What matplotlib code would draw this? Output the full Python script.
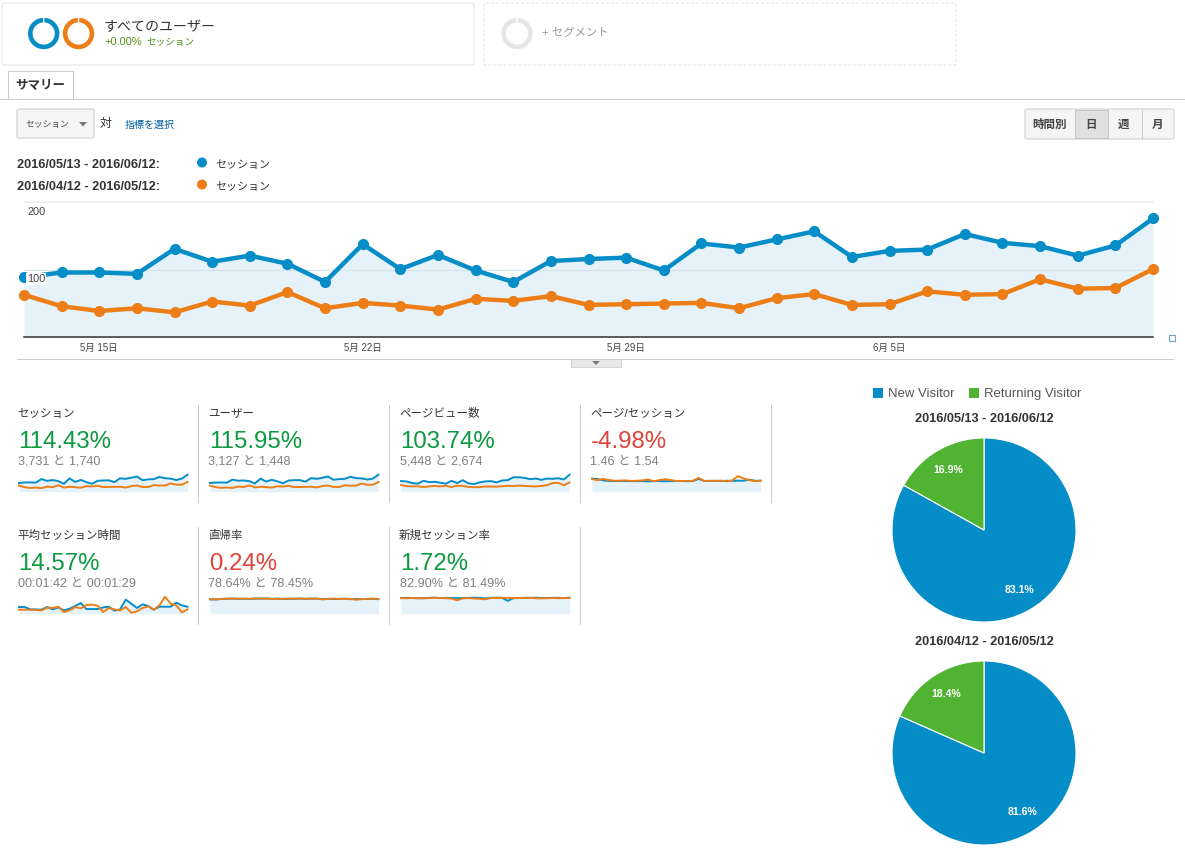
import matplotlib
matplotlib.use("Agg")
import matplotlib.pyplot as plt
from matplotlib.patches import Rectangle, FancyBboxPatch, Wedge, Circle, Polygon

plt.rcParams['font.family'] = ['Liberation Sans', 'Noto Sans CJK JP', 'DejaVu Sans']

W, H = 1185, 852
BLUE = '#058DC7'
ORANGE = '#ED7E17'
GREEN = '#50B432'
FILL = '#E5F2F9'

# daily sessions
sessions_now = [89, 96, 96, 94, 131, 112, 121, 109, 82, 138, 101, 122, 99, 82, 113, 116,
                118, 99, 139, 133, 145, 157, 119, 128, 130, 153, 140, 135, 121, 136, 176]
sessions_prev = [63, 46, 39, 43, 37, 53, 47, 67, 43, 51, 47, 41, 57, 54, 61, 48,
                 49, 50, 51, 43, 58, 64, 48, 49, 68, 63, 64, 86, 72, 73, 101]
date_idx = [2, 9, 16, 23]
date_labels = ['5月 15日', '5月 22日', '5月 29日', '6月 5日']

# sparklines
users_now = [76, 80, 80, 79, 105, 96, 98, 92, 72, 114, 88, 104, 90, 74, 98, 100,
             101, 88, 118, 112, 121, 132, 104, 110, 112, 130, 118, 116, 106, 114, 148]
users_prev = [53, 39, 34, 36, 33, 45, 41, 55, 37, 43, 40, 36, 47, 45, 51, 40,
              41, 42, 43, 37, 49, 54, 41, 41, 56, 52, 53, 71, 60, 61, 84]
views_now = [165, 160, 135, 125, 170, 150, 155, 140, 125, 170, 135, 180, 130, 120, 145, 160,
             165, 145, 175, 180, 225, 225, 215, 195, 205, 185, 205, 200, 210, 190, 265]
views_prev = [105, 85, 83, 84, 72, 82, 90, 82, 92, 72, 95, 90, 75, 70, 72, 80,
              80, 78, 85, 92, 88, 95, 90, 85, 82, 90, 100, 135, 138, 100, 145]
pages_now = [1.8, 1.72, 1.55, 1.48, 1.45, 1.47, 1.46, 1.45, 1.44, 1.46, 1.42, 1.45, 1.45, 1.43, 1.45, 1.47,
             1.46, 1.44, 1.46, 1.75, 1.48, 1.47, 1.49, 1.47, 1.5, 1.48, 1.52, 1.5, 1.65, 1.5, 1.52]
pages_prev = [1.72, 1.58, 1.75, 1.6, 1.5, 1.52, 1.55, 1.47, 1.5, 1.55, 1.68, 1.42, 1.6, 1.7, 1.6, 1.47,
              1.48, 1.45, 1.5, 1.9, 1.45, 1.5, 1.48, 1.52, 1.42, 1.55, 2.15, 1.8, 1.6, 1.45, 1.48]
duration_now = [120, 120, 78, 78, 72, 120, 78, 114, 60, 90, 138, 192, 84, 84, 84, 114,
                126, 54, 78, 252, 180, 102, 168, 138, 72, 126, 126, 126, 198, 150, 126]
duration_prev = [72, 72, 72, 66, 60, 108, 102, 126, 30, 60, 120, 96, 156, 162, 144, 30,
                 102, 78, 60, 120, 18, 42, 102, 132, 72, 150, 306, 180, 150, 24, 78]
bounce_now = [75, 75, 77, 78, 79, 78, 78, 77, 79, 79, 80, 78, 79, 77, 78, 78,
              79, 78, 79, 79, 76, 78, 77, 77, 79, 76, 77, 77, 77, 78, 76]
bounce_prev = [76, 75, 77, 79, 79, 78, 79, 78, 80, 79, 79, 77, 78, 78, 79, 79,
               79, 78, 79, 79, 75, 77, 79, 78, 77, 78, 73, 76, 78, 79, 77]
newrate_now = [83, 84, 83, 82, 83, 84, 85, 83, 84, 83, 82, 83, 84, 85, 84, 81,
               84, 85, 84, 68, 82, 83, 84, 84, 85, 83, 83, 84, 84, 83, 85]
newrate_prev = [82, 82, 83, 82, 81, 83, 84, 83, 82, 80, 71, 81, 83, 80, 79, 76,
                83, 83, 84, 84, 83, 83, 84, 84, 82, 81, 82, 83, 82, 83, 83]

metric_titles = ['セッション', 'ユーザー', 'ページビュー数', 'ページ/セッション',
                 '平均セッション時間', '直帰率', '新規セッション率']
metric_changes = ['114.43%', '115.95%', '103.74%', '-4.98%', '14.57%', '0.24%', '1.72%']
metric_good = [True, True, True, False, True, False, True]
metric_subs = ['3,731 と 1,740', '3,127 と 1,448', '5,448 と 2,674', '1.46 と 1.54',
               '00:01:42 と 00:01:29', '78.64% と 78.45%', '82.90% と 81.49%']
metric_now = [sessions_now, users_now, views_now, pages_now, duration_now, bounce_now, newrate_now]
metric_prev = [sessions_prev, users_prev, views_prev, pages_prev, duration_prev, bounce_prev, newrate_prev]
metric_tops = [176, 148, 265, 2.33, 306, 89, 90]

pie_labels = ['New Visitor', 'Returning Visitor']
pie_titles = ['2016/05/13 - 2016/06/12', '2016/04/12 - 2016/05/12']
pie_now = [83.1, 16.9]
pie_prev = [81.6, 18.4]


def px_axes(fig, left, top, right, bottom):
    # axes placed by pixel box, y measured from the top of the image
    return fig.add_axes([left / W, 1 - bottom / H, (right - left) / W, (bottom - top) / H])


def px(size):
    return size * 0.72


fig = plt.figure(figsize=(W / 100, H / 100), dpi=100, facecolor='white')

# background layer for the page furniture, in image pixels
bg = fig.add_axes([0, 0, 1, 1])
bg.set_xlim(0, W)
bg.set_ylim(H, 0)
bg.axis('off')


def box(x0, y0, x1, y1, face='white', edge='#CCCCCC', ls='-', lw=0.72, z=1):
    bg.add_patch(FancyBboxPatch((x0 + 2, y0 + 2), x1 - x0 - 4, y1 - y0 - 4, boxstyle='round,pad=2',
                                fc=face, ec=edge, ls=ls, lw=lw, zorder=z))


def ring(x, y, color):
    bg.add_patch(Wedge((x, y), 15.7, -87, 267, width=4.6, fc=color, ec='none'))


def label(x, y, s, size, color='#333333', bold=False, ha='left', z=3):
    # y is the text baseline, mixed latin/CJK strings stay level this way
    bg.text(x, y, s, fontsize=px(size), color=color, ha=ha, va='baseline', zorder=z,
            fontweight='bold' if bold else 'normal')


# segment boxes
box(2, 3, 474, 65, edge='#E4E4E4')
box(484, 3, 956, 65, edge='#E4E4E4', ls=(0, (3, 2)))
ring(43.7, 33.5, BLUE)
ring(78.5, 33.5, ORANGE)
ring(517, 33.5, '#E6E6E6')
label(104, 31, 'すべてのユーザー', 14)
label(104, 45, '+0.00%', 11, color='#4F8F16')
label(146, 45, 'セッション', 9.6, color='#4F8F16')
label(542, 36, '+ セグメント', 11.4, color='#999999')

# tab
bg.plot([0, 1185], [98.5, 98.5], color='#CCCCCC', lw=0.72)
bg.add_patch(Rectangle((7, 71), 65, 28, fc='white', ec='none', zorder=2))
bg.plot([7.5, 7.5, 72.5, 72.5], [98.5, 71, 71, 98.5], color='#CCCCCC', lw=0.72, zorder=3)
label(40, 89, 'サマリー', 12.5, bold=True, ha='center')

# metric selector
box(17, 109, 94, 138, face='#F5F5F5', edge='#C8C8C8')
label(26, 127.5, 'セッション', 8.8, color='#444444')
bg.add_patch(Polygon([[79, 122], [87, 122], [83, 126.5]], fc='#777777', ec='none', zorder=3))
label(100, 127, '対', 12)
label(125, 128, '指標を選択', 10, color='#005C9C')

# hour/day/week/month buttons
box(1025, 109, 1174, 139, face='#F5F5F5', edge='#CCCCCC')
bg.add_patch(Rectangle((1075, 110), 33, 28, fc='#E0E0E0', ec='#C4C4C4', lw=0.72, zorder=2))
bg.plot([1141.5, 1141.5], [110, 138], color='#CCCCCC', lw=0.72, zorder=2)
for cx, lab in zip([1049.5, 1091, 1124, 1157], ['時間別', '日', '週', '月']):
    label(cx, 128, lab, 11.5, color='#444444', bold=True, ha='center')

# date legend
for y, text, color in [(168, '2016/05/13 - 2016/06/12:', BLUE), (190, '2016/04/12 - 2016/05/12:', ORANGE)]:
    label(17, y, text, 12.8, bold=True)
    bg.add_patch(Circle((202, y - 5.5), 5, fc=color, ec='none'))
    label(215, y, 'セッション', 11)

# main line chart
ax = px_axes(fig, 24, 202.3, 1153, 337.3)
ax.patch.set_alpha(0)
days = list(range(len(sessions_now)))
ax.fill_between(days, sessions_now, color=FILL, lw=0, zorder=1)
ax.axhline(100, color='#D5E2EA', lw=0.8, zorder=2)
ax.axhline(200, color='#EEEEEE', lw=1.2, zorder=2, clip_on=False)
ax.plot(days, sessions_now, color=BLUE, lw=3.2, marker='o', ms=7, clip_on=False, zorder=4)
ax.plot(days, sessions_prev, color=ORANGE, lw=3.2, marker='o', ms=7, clip_on=False, zorder=5)
ax.set_xlim(0, 30)
ax.set_ylim(0, 200)
for side in ['top', 'left', 'right']:
    ax.spines[side].set_visible(False)
ax.spines['bottom'].set_color('#333333')
ax.spines['bottom'].set_linewidth(1.1)
ax.set_yticks([])
ax.set_xticks(date_idx)
ax.set_xticklabels(date_labels, fontsize=px(9.6), color='#444444')
ax.tick_params(axis='x', length=0, pad=4)
ax.text(27, 215, '200', transform=bg.transData, fontsize=px(11), color='#444444', va='baseline', zorder=6)
ax.text(27, 282, '100', transform=bg.transData, fontsize=px(11), color='#444444', va='baseline', zorder=6,
        bbox=dict(fc='white', ec='none', pad=0.6))

# divider and collapse handle under the chart
bg.plot([17, 1173], [358.5, 358.5], color='#CCCCCC', lw=0.72)
bg.add_patch(Rectangle((571, 359), 50, 8, fc='#E8E8E8', ec='#D0D0D0', lw=0.6))
bg.add_patch(Polygon([[592, 361], [600, 361], [596, 365]], fc='#777777', ec='none', zorder=3))
bg.add_patch(Rectangle((1169, 335), 6, 6, fc='white', ec='#6D9DC5', lw=0.8))

# metric tiles
col_x = [17, 208, 399, 590]
row_y = [400, 522]
for i, title in enumerate(metric_titles):
    x = col_x[i % 4] if i < 4 else col_x[i - 4]
    y = row_y[0] if i < 4 else row_y[1]
    label(x, y + 16.5, title, 11.5)
    label(x + 1, y + 48.3, metric_changes[i], 24, color='#0B9A40' if metric_good[i] else '#E0433A')
    label(x + 0.5, y + 65, metric_subs[i], 12.6, color='#808080')
    bg.plot([x + 180.5, x + 180.5], [y + 5, y + 102], color='#CCCCCC', lw=0.72)

    sp = px_axes(fig, x + 2, y + 74.7, x + 170.5, y + 91.7)
    sp.patch.set_alpha(0)
    sp.fill_between(days, metric_now[i], color=FILL, lw=0)
    sp.plot(days, metric_now[i], color=BLUE, lw=1.4, clip_on=False)
    sp.plot(days, metric_prev[i], color=ORANGE, lw=1.4, clip_on=False)
    sp.set_xlim(0, 30)
    sp.set_ylim(0, metric_tops[i])
    sp.axis('off')

# pie legend
for x, color, text in zip([873, 969], [BLUE, GREEN], pie_labels):
    bg.add_patch(Rectangle((x, 387.5), 10, 10, fc=color, ec='none'))
    label(x + 15, 397, text, 13.1, color='#555555')


def draw_pie(cy, values, title):
    pie_ax = px_axes(fig, 892, cy - 92, 1076, cy + 92)
    pie_ax.pie(values, colors=[BLUE, GREEN], startangle=90, counterclock=False, radius=1,
               autopct='%.1f%%', pctdistance=0.76,
               wedgeprops=dict(edgecolor='white', linewidth=0.8),
               textprops=dict(color='white', fontsize=px(10.5), fontweight='bold'))
    pie_ax.set_xlim(-1, 1)
    pie_ax.set_ylim(-1, 1)
    label(984, cy - 108, title, 12.7, bold=True, ha='center')


draw_pie(530, pie_now, pie_titles[0])
draw_pie(753, pie_prev, pie_titles[1])

fig.savefig('out.png', dpi=100)
